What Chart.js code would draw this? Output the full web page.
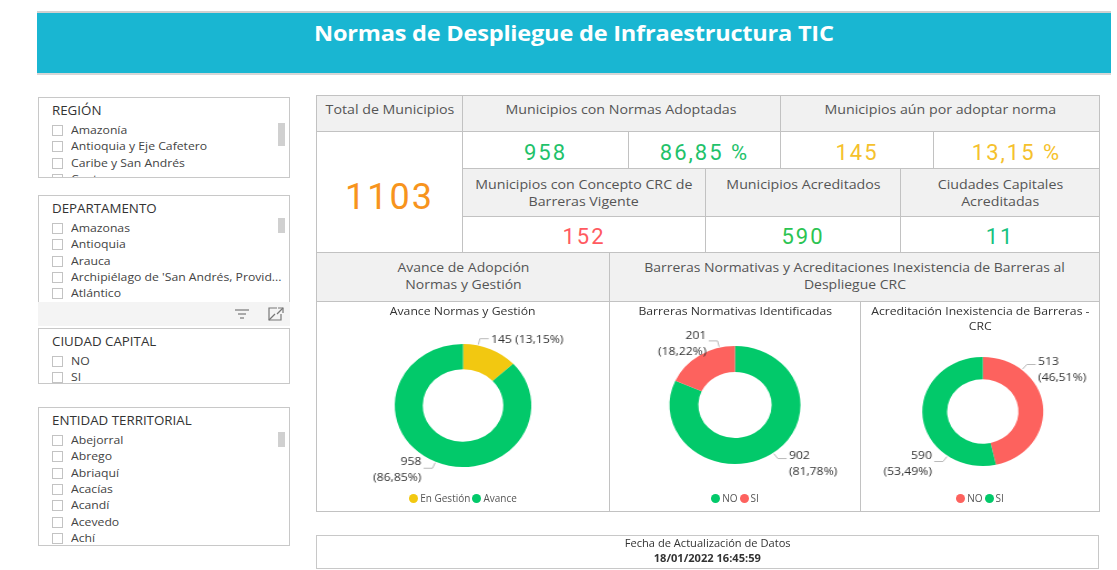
<!DOCTYPE html>
<html lang="es">
<head>
<meta charset="utf-8">
<title>Normas de Despliegue de Infraestructura TIC</title>
<script src="https://cdn.jsdelivr.net/npm/chart.js@4.4.1/dist/chart.umd.min.js"></script>
<style>
  html,body{margin:0;padding:0;background:#fff;}
  body{width:1117px;height:570px;position:relative;overflow:hidden;font-family:"Open Sans","Noto Sans",sans-serif;color:#333;}
  .abs{position:absolute;box-sizing:border-box;}
  .sx{display:inline-block;transform:scaleX(1.11);transform-origin:50% 50%;}
  .sxl{display:inline-block;transform:scaleX(1.11);transform-origin:0 50%;}
  #banner{left:37px;top:11px;width:1074px;height:64px;background:#19B6D2;border-top:2px solid #d0d0d0;border-bottom:2px solid #d6d6d6;}
  #banner h1{margin:0;position:absolute;left:0;right:0;top:4px;text-align:center;color:#fff;font-size:22px;font-weight:700;letter-spacing:-0.2px;}
  #banner h1 span{display:inline-block;transform:scaleX(1.07);}
  .slicer{border:1px solid #c8c8c8;background:#fff;overflow:hidden;}
  .slicer .st{position:absolute;left:13px;font-size:12px;color:#333;white-space:nowrap;}
  .slicer .it{position:absolute;left:13px;font-size:11px;color:#444;white-space:nowrap;line-height:12px;height:12px;}
  .slicer .it i{position:absolute;left:0;top:1px;width:11px;height:11px;border:1px solid #c3c3c3;box-sizing:border-box;}
  .slicer .it span{position:absolute;left:19px;top:0;}
  .scroll{position:absolute;width:7px;background:#d0d0d0;}
  .cell{border:1px solid #c2c2c2;display:flex;align-items:center;justify-content:center;text-align:center;}
  .hd{background:#f1f1f1;color:#555;font-size:12.8px;line-height:17px;}
  .val{background:#fff;font-family:Roboto,"DejaVu Sans",sans-serif;font-size:22px;letter-spacing:2px;}
  .ctitle{position:absolute;text-align:center;font-size:11px;color:#333;line-height:15px;}
  .legend{position:absolute;text-align:center;font-size:10px;color:#555;white-space:nowrap;}
  .legend span{display:inline-block;margin:0 1px;}
  .legend b{display:inline-block;width:9px;height:9px;border-radius:50%;vertical-align:-1px;margin-right:2px;}
  .cv{position:absolute;transform-origin:0 0;}
</style>
</head>
<body>
<div id="banner" class="abs"><h1><span>Normas de Despliegue de Infraestructura TIC</span></h1></div>
<div id="slicers"></div>
<div id="grid"></div>
<div id="charts"></div>
<div class="abs" style="left:316px;top:535px;width:783px;height:34px;border:1px solid #c8c8c8;text-align:center;font-size:10px;color:#333;line-height:15px;padding-top:0px;">
  <div><span class="sx" id="fechaT"></span></div><div><span class="sx" id="fechaV" style="font-weight:700;"></span></div>
</div>
<script>
// ---------------- DATA ----------------
const regionItems = ['Amazonía','Antioquia y Eje Cafetero','Caribe y San Andrés','Centro'];
const departamentoItems = ['Amazonas','Antioquia','Arauca',"Archipiélago de 'San Andrés, Provid...",'Atlántico','Bogotá'];
const ciudadCapitalItems = ['NO','SI'];
const entidadItems = ['Abejorral','Abrego','Abriaquí','Acacías','Acandí','Acevedo','Achí'];

const totalMunicipios = 1103;
const normasAdoptadas = 958;
const normasAdoptadasPct = '86,85 %';
const porAdoptar = 145;
const porAdoptarPct = '13,15 %';
const conceptoCRC = 152;
const acreditados = 590;
const capitalesAcreditadas = 11;

const avanceLabels = ['En Gestión','Avance'];
const avanceValues = [145, 958];
const barrerasLabels = ['NO','SI'];
const barrerasValues = [902, 201];
const acreditacionLabels = ['NO','SI'];
const acreditacionValues = [513, 590];

const fechaTitulo = 'Fecha de Actualización de Datos';
const fechaValor = '18/01/2022 16:45:59';

// ---------------- SLICERS ----------------
const COL = {green:'#02C96A', yellow:'#F2C811', red:'#FD625E'};
function slicer(x,y,w,h,title,items,scroll){
  let html = `<div class="abs slicer" style="left:${x}px;top:${y}px;width:${w}px;height:${h}px;">`;
  html += `<div class="st" style="top:4px;"><span class="sxl">${title}</span></div>`;
  items.forEach((t,i)=>{ html += `<div class="it" style="top:${26+i*16.35}px;"><i></i><span class="sxl">${t}</span></div>`; });
  if(scroll) html += `<div class="scroll" style="left:${w-13}px;top:${scroll[0]}px;height:${scroll[1]}px;"></div>`;
  html += `</div>`;
  return html;
}
let sh = '';
sh += slicer(38,97,252,81,'REGIÓN',regionItems,[25,23]);
sh += slicer(38,195,252,108,'DEPARTAMENTO',departamentoItems,[22,15]);
sh += `<div class="abs" style="left:38px;top:302px;width:252px;height:24px;background:#f4f4f4;">
  <svg style="position:absolute;left:196px;top:6px" width="16" height="12"><g stroke="#777" stroke-width="1.2"><line x1="1" y1="2" x2="15" y2="2"/><line x1="4" y1="6" x2="12" y2="6"/><line x1="6" y1="10" x2="10" y2="10"/></g></svg>
  <svg style="position:absolute;left:229px;top:4px" width="18" height="16"><g stroke="#777" stroke-width="1.2" fill="none"><path d="M10 2 H2 V14 H14 V8"/><path d="M2 14 L8 8"/><path d="M11 2 H16 V7"/><path d="M16 2 L10 8"/></g></svg>
</div>`;
sh += slicer(38,328,252,56,'CIUDAD CAPITAL',ciudadCapitalItems,null);
sh += slicer(38,407,252,139,'ENTIDAD TERRITORIAL',entidadItems,[24,15]);
document.getElementById('slicers').innerHTML = sh;

// ---------------- KPI GRID ----------------
function cell(x1,x2,y1,y2,cls,content,style){
  return `<div class="abs cell ${cls}" style="left:${x1}px;top:${y1}px;width:${x2-x1+1}px;height:${y2-y1+1}px;${style||''}">${content}</div>`;
}
let g = '';
g += cell(316,462,95,131,'hd','<div style="transform:translateY(-4px)"><span class="sx">Total de Municipios</span></div>');
g += cell(462,780,95,131,'hd','<div style="transform:translateY(-4px)"><span class="sx">Municipios con Normas Adoptadas</span></div>');
g += cell(780,1099,95,131,'hd','<div style="transform:translateY(-4px)"><span class="sx">Municipios aún por adoptar norma</span></div>');
g += cell(316,462,131,252,'val',`<div style="font-size:36px;color:#F7941D;transform:translateY(5px)">${totalMunicipios}</div>`);
g += cell(462,628,131,168,'val',`<div style="color:#1FC26B;transform:translateY(2px)">${normasAdoptadas}</div>`);
g += cell(628,780,131,168,'val',`<div style="color:#1FC26B;transform:translateY(2px)">${normasAdoptadasPct}</div>`);
g += cell(780,933,131,168,'val',`<div style="color:#F5C12C;transform:translateY(2px)">${porAdoptar}</div>`);
g += cell(933,1099,131,168,'val',`<div style="color:#F5C12C;transform:translateY(2px)">${porAdoptarPct}</div>`);
g += cell(462,705,168,216,'hd','<div><span class="sx">Municipios con Concepto CRC de</span><br><span class="sx">Barreras Vigente</span></div>');
g += cell(705,900,168,216,'hd','<div style="transform:translateY(-8px)"><span class="sx">Municipios Acreditados</span></div>');
g += cell(900,1099,168,216,'hd','<div><span class="sx">Ciudades Capitales</span><br><span class="sx">Acreditadas</span></div>');
g += cell(462,705,216,252,'val',`<div style="color:#FF5A60;transform:translateY(2px)">${conceptoCRC}</div>`);
g += cell(705,900,216,252,'val',`<div style="color:#2BC452;transform:translateY(2px)">${acreditados}</div>`);
g += cell(900,1099,216,252,'val',`<div style="color:#17C27F;transform:translateY(2px)">${capitalesAcreditadas}</div>`);
g += cell(316,609,252,301,'hd','<div style="font-size:12.6px;line-height:17.5px;transform:translateY(-1px)"><span class="sx">Avance de Adopción</span><br><span class="sx">Normas y Gestión</span></div>');
g += cell(609,1099,252,301,'hd','<div style="font-size:12.6px;line-height:17.5px;transform:translateY(-1px)"><span class="sx">Barreras Normativas y Acreditaciones Inexistencia de Barreras al</span><br><span class="sx">Despliegue CRC</span></div>');
g += cell(316,609,301,511,'','', 'background:#fff;');
g += cell(609,860,301,511,'','', 'background:#fff;');
g += cell(860,1099,301,511,'','', 'background:#fff;');
document.getElementById('grid').innerHTML = g;
document.getElementById('fechaT').textContent = fechaTitulo;
document.getElementById('fechaV').textContent = fechaValor;

// ---------------- DONUTS ----------------
const SX = 1.11; // horizontal stretch of the reference
function fmtPct(v,total){ return (v/total*100).toFixed(2).replace('.',',') + '%'; }

const leaderPlugin = {
  id:'leaders',
  afterDatasetsDraw(chart, args, opts){
    const ctx = chart.ctx;
    const meta = chart.getDatasetMeta(0);
    const data = chart.data.datasets[0].data;
    const total = data.reduce((a,b)=>a+b,0);
    meta.data.forEach((arc,i)=>{
      const p = arc.getProps(['x','y','startAngle','endAngle','outerRadius'], true);
      const a = p.startAngle + opts.fractions[i]*(p.endAngle-p.startAngle);
      const c = Math.cos(a), s = Math.sin(a);
      const x0 = p.x + c*(p.outerRadius+1), y0 = p.y + s*(p.outerRadius+1);
      const x1 = p.x + c*(p.outerRadius+7), y1 = p.y + s*(p.outerRadius+7);
      const right = c >= 0;
      const x2 = x1 + (right?1:-1)*8;
      ctx.save();
      ctx.strokeStyle = '#b9b9b9'; ctx.lineWidth = 1;
      ctx.beginPath(); ctx.moveTo(x0,y0); ctx.lineTo(x1,y1); ctx.lineTo(x2,y1); ctx.stroke();
      ctx.fillStyle = '#333';
      ctx.font = '11px "Open Sans", "Noto Sans", sans-serif';
      ctx.textAlign = right ? 'left' : 'right';
      ctx.textBaseline = 'middle';
      const tx = x2 + (right?2:-2);
      const pct = fmtPct(data[i], total);
      if (opts.oneLine[i]) {
        ctx.fillText(`${data[i]} (${pct})`, tx, y1 + 1);
      } else {
        const mid = y1 + (opts.dy ? opts.dy[i] : 3);
        ctx.fillText(String(data[i]), tx, mid - 8);
        ctx.fillText(`(${pct})`, tx, mid + 8);
      }
      ctx.restore();
    });
  }
};

function donut(cfg){
  const wLogical = cfg.w / SX;
  const box = document.createElement('div');
  box.className = 'cv';
  box.style.cssText = `left:${cfg.x}px;top:${cfg.y}px;width:${wLogical}px;height:${cfg.h}px;transform:scaleX(${SX});`;
  const cv = document.createElement('canvas');
  box.appendChild(cv);
  document.getElementById('charts').appendChild(box);
  new Chart(cv, {
    type:'doughnut',
    data:{ labels:cfg.labels, datasets:[{ data:cfg.values, backgroundColor:cfg.colors, borderWidth:0, hoverOffset:0 }]},
    options:{
      responsive:true, maintainAspectRatio:false, animation:false,
      cutout:cfg.cutout,
      layout:{ padding:cfg.padding },
      plugins:{ legend:{display:false}, tooltip:{enabled:false}, title:{display:false},
        leaders:{ fractions:cfg.fractions, oneLine:cfg.oneLine, dy:cfg.dy } }
    },
    plugins:[leaderPlugin]
  });
  // title
  const t = document.createElement('div');
  t.className = 'ctitle';
  t.style.cssText = `left:${cfg.x}px;top:${cfg.y+2}px;width:${cfg.w}px;`;
  t.innerHTML = cfg.title.map(s=>`<span class="sx">${s}</span>`).join('<br>');
  document.getElementById('charts').appendChild(t);
  // legend
  const l = document.createElement('div');
  l.className = 'legend';
  l.style.cssText = `left:${cfg.x}px;top:${cfg.y+190}px;width:${cfg.w}px;`;
  l.innerHTML = cfg.labels.map((lb,i)=>`<span><b style="background:${cfg.colors[i]}"></b>${lb}</span>`).join('');
  document.getElementById('charts').appendChild(l);
}

donut({ x:317, y:301, w:292, h:208, title:['Avance Normas y Gestión'], cutout:'59%',
  labels:avanceLabels, values:avanceValues, colors:[COL.yellow, COL.green],
  padding:{top:43, bottom:42, left:0, right:0},
  fractions:[0.27, 0.5], oneLine:[true,false], dy:[0,2] });
donut({ x:610, y:301, w:250, h:208, title:['Barreras Normativas Identificadas'], cutout:'56%',
  labels:barrerasLabels, values:barrerasValues, colors:[COL.green, COL.red],
  padding:{top:45, bottom:45, left:0, right:0},
  fractions:[0.49, 0.79], oneLine:[false,false], dy:[5,3] });
donut({ x:861, y:301, w:238, h:208, title:['Acreditación Inexistencia de Barreras -','CRC'], cutout:'59%',
  labels:acreditacionLabels, values:acreditacionValues, colors:[COL.red, COL.green],
  padding:{top:56, bottom:43, left:5, right:0},
  fractions:[0.24, 0.25], oneLine:[false,false], dy:[5,2] });
</script>
</body>
</html>
